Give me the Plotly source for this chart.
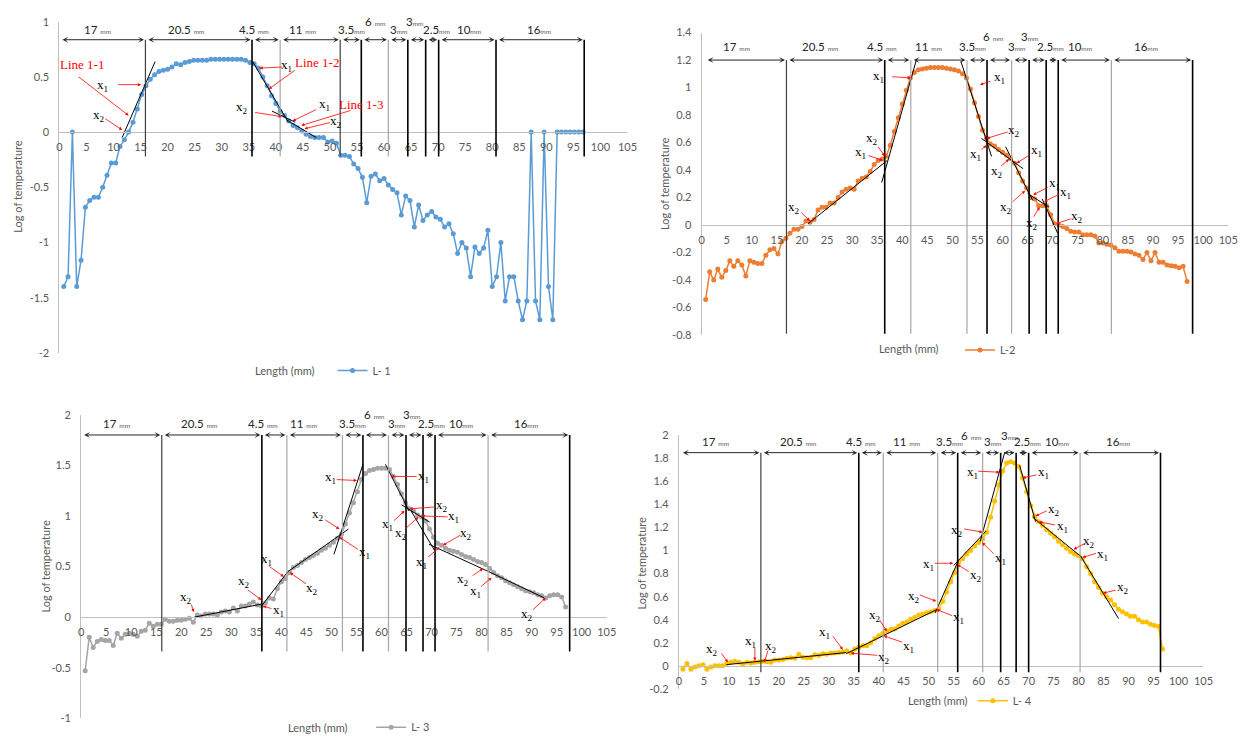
import plotly.graph_objects as go

W, H = 1258, 742

# ---------------- data ----------------
length_mm = [0.8, 1.6, 2.4, 3.2, 4.0, 4.8, 5.6, 6.4, 7.2, 8.0,
             8.8, 9.6, 10.4, 11.2, 12.0, 12.8, 13.6, 14.4, 15.2, 16.0,
             16.8, 17.6, 18.4, 19.2, 20.0, 20.8, 21.6, 22.4, 23.2, 24.0,
             24.8, 25.6, 26.4, 27.2, 28.0, 28.8, 29.6, 30.4, 31.2, 32.0,
             32.8, 33.6, 34.4, 35.2, 36.0, 36.8, 37.6, 38.4, 39.2, 40.0,
             40.8, 41.6, 42.4, 43.2, 44.0, 44.8, 45.6, 46.4, 47.2, 48.0,
             48.8, 49.6, 50.4, 51.2, 52.0, 52.8, 53.6, 54.4, 55.2, 56.0,
             56.8, 57.6, 58.4, 59.2, 60.0, 60.8, 61.6, 62.4, 63.2, 64.0,
             64.8, 65.6, 66.4, 67.2, 68.0, 68.8, 69.6, 70.4, 71.2, 72.0,
             72.8, 73.6, 74.4, 75.2, 76.0, 76.8, 77.6, 78.4, 79.2, 80.0,
             80.8, 81.6, 82.4, 83.2, 84.0, 84.8, 85.6, 86.4, 87.2, 88.0,
             88.8, 89.6, 90.4, 91.2, 92.0, 92.8, 93.6, 94.4, 95.2, 96.0, 96.8]

log_temp_L1 = [-1.40, -1.31, 0.00, -1.40, -1.16, -0.68, -0.62, -0.59, -0.59, -0.50,
               -0.39, -0.28, -0.28, -0.13, -0.07, 0.00, 0.09, 0.21, 0.34, 0.42,
               0.48, 0.52, 0.55, 0.56, 0.57, 0.59, 0.62, 0.61, 0.63, 0.64,
               0.65, 0.65, 0.65, 0.65, 0.66, 0.66, 0.66, 0.66, 0.66, 0.66,
               0.66, 0.66, 0.65, 0.63, 0.62, 0.58, 0.50, 0.42, 0.33, 0.26,
               0.19, 0.15, 0.10, 0.06, 0.04, 0.01, -0.02, -0.04, -0.05, -0.05,
               -0.05, -0.09, -0.08, -0.10, -0.21, -0.21, -0.22, -0.29, -0.33, -0.41,
               -0.64, -0.40, -0.38, -0.44, -0.42, -0.48, -0.52, -0.55, -0.75, -0.58,
               -0.62, -0.86, -0.66, -0.80, -0.75, -0.72, -0.77, -0.79, -0.86, -0.83,
               -0.92, -1.10, -1.00, -1.05, -1.31, -1.04, -1.10, -1.05, -0.89, -1.40,
               -1.31, -1.00, -1.53, -1.31, -1.31, -1.53, -1.70, -1.53, 0.00, -1.53,
               -1.70, 0.00, -1.40, -1.70, 0.00, 0.00, 0.00, 0.00, 0.00, 0.00, 0.00]

log_temp_L2 = [-0.54, -0.34, -0.40, -0.32, -0.38, -0.33, -0.26, -0.30, -0.26, -0.29,
               -0.37, -0.26, -0.27, -0.28, -0.28, -0.22, -0.18, -0.17, -0.21, -0.12,
               -0.095, -0.06, -0.03, -0.03, -0.01, 0.03, 0.02, 0.04, 0.11, 0.13,
               0.13, 0.16, 0.16, 0.20, 0.24, 0.26, 0.27, 0.26, 0.32, 0.34,
               0.35, 0.39, 0.44, 0.47, 0.48, 0.50, 0.58, 0.68, 0.78, 0.88,
               0.98, 1.07, 1.11, 1.13, 1.135, 1.14, 1.145, 1.145, 1.145, 1.145,
               1.14, 1.135, 1.13, 1.12, 1.10, 1.07, 0.99, 0.89, 0.79, 0.69,
               0.63, 0.59, 0.575, 0.55, 0.53, 0.51, 0.485, 0.45, 0.38, 0.32,
               0.27, 0.20, 0.19, 0.14, 0.14, 0.14, 0.075, 0.01, 0.00, -0.01,
               -0.025, -0.045, -0.05, -0.05, -0.07, -0.07, -0.07, -0.08, -0.13, -0.13,
               -0.14, -0.145, -0.165, -0.19, -0.19, -0.19, -0.195, -0.21, -0.22, -0.25,
               -0.20, -0.26, -0.20, -0.27, -0.27, -0.29, -0.295, -0.30, -0.31, -0.30, -0.41]

log_temp_L3 = [-0.53, -0.20, -0.30, -0.24, -0.22, -0.23, -0.23, -0.28, -0.16, -0.21,
               -0.17, -0.16, -0.17, -0.19, -0.14, -0.13, -0.06, -0.09, -0.07, -0.07,
               -0.02, -0.04, -0.04, -0.03, -0.03, -0.02, -0.01, -0.05, 0.02, 0.01,
               0.03, 0.03, 0.03, 0.02, 0.05, 0.06, 0.05, 0.09, 0.06, 0.11,
               0.11, 0.13, 0.15, 0.12, 0.11, 0.14, 0.19, 0.18, 0.28, 0.35,
               0.38, 0.44, 0.49, 0.51, 0.54, 0.57, 0.59, 0.61, 0.63, 0.66,
               0.68, 0.71, 0.74, 0.78, 0.82, 0.92, 1.03, 1.13, 1.24, 1.36,
               1.42, 1.45, 1.46, 1.47, 1.47, 1.47, 1.46, 1.39, 1.31, 1.22,
               1.13, 1.07, 1.05, 1.01, 0.99, 0.95, 0.87, 0.79, 0.73, 0.71,
               0.68, 0.66, 0.65, 0.64, 0.62, 0.60, 0.59, 0.57, 0.55, 0.54,
               0.52, 0.48, 0.44, 0.41, 0.39, 0.36, 0.34, 0.32, 0.30, 0.28,
               0.26, 0.25, 0.24, 0.22, 0.21, 0.19, 0.21, 0.22, 0.22, 0.20, 0.10]

log_temp_L4 = [-0.03, 0.02, -0.03, -0.01, 0.00, 0.01, -0.03, -0.01, 0.00, 0.00,
               0.00, 0.02, 0.03, 0.04, 0.03, 0.015, 0.03, 0.025, 0.03, 0.035,
               0.04, 0.035, 0.03, 0.05, 0.05, 0.055, 0.065, 0.07, 0.065, 0.10,
               0.075, 0.07, 0.07, 0.095, 0.09, 0.105, 0.10, 0.11, 0.11, 0.115,
               0.12, 0.13, 0.11, 0.145, 0.16, 0.175, 0.175, 0.20, 0.235, 0.26,
               0.28, 0.30, 0.315, 0.32, 0.345, 0.37, 0.38, 0.405, 0.42, 0.44,
               0.45, 0.46, 0.47, 0.48, 0.49, 0.56, 0.64, 0.73, 0.81, 0.90,
               0.93, 0.97, 1.00, 1.04, 1.07, 1.10, 1.16, 1.29, 1.43, 1.57,
               1.69, 1.76, 1.77, 1.76, 1.73, 1.63, 1.51, 1.39, 1.30, 1.25,
               1.22, 1.18, 1.15, 1.12, 1.08, 1.05, 1.02, 0.99, 0.97, 0.955,
               0.93, 0.86, 0.80, 0.73, 0.68, 0.63, 0.60, 0.57, 0.53, 0.49,
               0.47, 0.45, 0.43, 0.43, 0.40, 0.38, 0.38, 0.36, 0.35, 0.34, 0.145]

x_ticks = [0, 5, 10, 15, 20, 25, 30, 35, 40, 45, 50, 55, 60, 65, 70, 75, 80, 85, 90, 95, 100, 105]
y_ticks_L1 = [-2, -1.5, -1, -0.5, 0, 0.5, 1]
y_ticks_L2 = [-0.8, -0.6, -0.4, -0.2, 0, 0.2, 0.4, 0.6, 0.8, 1, 1.2, 1.4]
y_ticks_L3 = [-1, -0.5, 0, 0.5, 1, 1.5, 2]
y_ticks_L4 = [-0.2, 0, 0.2, 0.4, 0.6, 0.8, 1, 1.2, 1.4, 1.6, 1.8, 2]

segment_mm = ["17", "20.5", "4.5", "11", "3.5", "6", "3", "3", "2.5", "10", "16"]

# section boundaries (mm) as drawn in each chart
bounds_L1 = [15.9, 35.6, 40.8, 51.9, 55.8, 60.8, 64.4, 67.7, 70.1, 80.7, 97.0]
bounds_L2 = [16.9, 36.5, 41.7, 52.9, 56.9, 61.8, 65.3, 68.7, 71.1, 81.7, 97.9]
bounds_L3 = [16.1, 36.1, 41.1, 52.2, 56.3, 61.4, 64.9, 68.3, 70.7, 81.3, 97.6]
bounds_L4 = [16.4, 36.0, 40.9, 51.8, 55.8, 60.8, 64.4, 67.5, 70.0, 80.3, 96.4]

# fitted straight lines (x0, y0, x1, y1)
fits_L1 = [(11.6, -0.05, 17.7, 0.64), (35.7, 0.64, 42.3, 0.09),
           (39.3, 0.19, 43.6, 0.09), (42.0, 0.11, 47.5, -0.05)]
fits_L2 = [(21.2, 0.01, 37.0, 0.47), (35.9, 0.31, 42.8, 1.20), (51.7, 1.19, 57.8, 0.50),
           (55.8, 0.63, 64.1, 0.41), (60.6, 0.57, 66.0, 0.18), (65.0, 0.23, 69.3, 0.13),
           (67.9, 0.19, 71.0, -0.06)]
fits_L3 = [(22.6, 0.0, 36.2, 0.13), (36.2, 0.12, 41.3, 0.45), (41.3, 0.45, 53.4, 0.87),
           (50.5, 0.62, 56.3, 1.51), (60.8, 1.51, 65.5, 1.05), (64.0, 1.11, 69.6, 0.94),
           (65.9, 1.05, 70.6, 0.66), (69.5, 0.72, 81.4, 0.45), (81.4, 0.45, 92.5, 0.19)]
fits_L4 = [(9.5, 0.01, 33.5, 0.115), (33.5, 0.105, 51.7, 0.49), (51.3, 0.46, 55.9, 0.91),
           (55.0, 0.87, 61.5, 1.17), (60.3, 1.08, 65.2, 1.85), (68.2, 1.74, 71.4, 1.25),
           (70.8, 1.29, 80.7, 0.94), (80.3, 0.96, 88.0, 0.41)]

# ---------------- annotation layout (positions) ----------------
labels_L1 = [("Line 1-1", 4.2, 0.61), ("x1", 7.9, 0.42), ("x2", 7.3, 0.15),
             ("Line 1-2", 47.7, 0.63), ("x1", 42.0, 0.60), ("x2", 33.8, 0.22),
             ("x1", 49.0, 0.25), ("Line 1-3", 55.8, 0.25), ("x2", 51.2, 0.10)]
arrows_L1 = [(3.3, 0.51, 12.8, 0.15), (10.6, 0.43, 15.1, 0.43), (8.2, 0.13, 11.6, 0.02),
             (43.8, 0.57, 38.7, 0.39), (41.4, 0.59, 37.0, 0.58), (35.9, 0.18, 41.1, 0.14),
             (47.7, 0.21, 43.1, 0.10), (54.1, 0.20, 44.7, 0.06), (50.3, 0.09, 45.3, 0.03)]

labels_L2 = [("x1", 35.3, 1.08), ("x2", 34.0, 0.63), ("x1", 31.7, 0.525), ("x2", 18.4, 0.13),
             ("x1", 59.4, 1.07), ("x2", 62.2, 0.69), ("x1", 54.6, 0.51), ("x2", 58.8, 0.39),
             ("x1", 66.8, 0.54), ("x1", 70.3, 0.30), ("x1", 72.6, 0.24), ("x2", 60.7, 0.13),
             ("x2", 65.8, 0.01), ("x2", 74.9, 0.06)]
arrows_L2 = [(37.7, 1.08, 41.7, 1.07), (35.0, 0.58, 36.5, 0.50), (33.0, 0.51, 36.1, 0.47),
             (19.6, 0.10, 21.6, 0.03), (57.9, 1.05, 55.5, 1.02), (61.3, 0.68, 56.8, 0.63),
             (55.5, 0.54, 56.8, 0.58), (59.4, 0.42, 61.3, 0.48), (65.8, 0.52, 62.8, 0.45),
             (69.3, 0.28, 66.1, 0.22), (71.6, 0.23, 68.3, 0.17), (61.7, 0.16, 64.5, 0.25),
             (66.0, 0.05, 67.4, 0.13), (73.9, 0.05, 70.7, 0.01)]

labels_L3 = [("x2", 20.9, 0.19), ("x2", 32.6, 0.35), ("x1", 39.5, 0.065), ("x1", 37.0, 0.57),
             ("x2", 46.2, 0.28), ("x1", 49.8, 1.38), ("x2", 47.4, 1.01), ("x1", 56.6, 0.64),
             ("x1", 68.4, 1.39), ("x2", 72.0, 1.10), ("x1", 74.3, 0.99), ("x1", 61.3, 0.92),
             ("x2", 63.9, 0.83), ("x2", 76.9, 0.83), ("x1", 68.0, 0.54), ("x2", 76.3, 0.37),
             ("x1", 78.8, 0.25), ("x2", 89.1, 0.03)]
arrows_L3 = [(21.9, 0.14, 22.5, 0.05), (33.0, 0.28, 36.0, 0.17), (38.3, 0.08, 36.3, 0.11),
             (37.3, 0.51, 40.5, 0.40), (45.2, 0.32, 41.7, 0.44), (50.8, 1.36, 55.1, 1.35),
             (48.5, 0.97, 51.6, 0.87), (55.6, 0.66, 51.6, 0.79), (67.3, 1.39, 61.8, 1.39),
             (71.0, 1.09, 65.6, 1.07), (73.5, 0.99, 68.0, 1.0), (62.2, 0.94, 64.6, 1.05),
             (64.7, 0.87, 67.4, 0.99), (76.1, 0.82, 72.3, 0.71), (69.0, 0.58, 71.6, 0.69),
             (77.9, 0.40, 80.3, 0.48), (79.6, 0.29, 82.0, 0.39), (90.0, 0.06, 92.8, 0.19)]

labels_L4 = [("x2", 6.7, 0.145), ("x1", 14.4, 0.21), ("x2", 18.4, 0.17), ("x1", 29.1, 0.29),
             ("x2", 41.0, 0.07), ("x2", 39.2, 0.44), ("x1", 46.0, 0.17), ("x2", 47.0, 0.60),
             ("x1", 50.0, 0.88), ("x1", 55.9, 0.42), ("x2", 59.4, 0.78), ("x2", 55.7, 1.17),
             ("x1", 64.3, 0.93), ("x1", 58.7, 1.68), ("x1", 72.9, 1.68), ("x2", 75.0, 1.36),
             ("x1", 76.7, 1.21), ("x2", 82.1, 1.08), ("x1", 84.8, 0.97), ("x2", 88.8, 0.68)]
arrows_L4 = [(8.3, 0.12, 9.8, 0.03), (15.2, 0.17, 15.2, 0.045), (17.9, 0.145, 17.1, 0.03),
             (30.6, 0.27, 32.8, 0.14), (40.0, 0.09, 34.4, 0.11), (40.0, 0.41, 41.6, 0.30),
             (45.0, 0.20, 41.0, 0.26), (47.9, 0.62, 51.5, 0.56), (50.9, 0.89, 54.9, 0.89),
             (55.0, 0.43, 51.5, 0.49), (58.3, 0.81, 55.7, 0.88), (56.8, 1.19, 60.8, 1.16),
             (63.3, 0.96, 60.7, 1.07), (59.6, 1.69, 64.2, 1.68), (71.9, 1.66, 68.8, 1.63),
             (73.9, 1.35, 71.4, 1.30), (75.6, 1.22, 72.1, 1.25), (81.6, 1.07, 79.0, 1.01),
             (83.8, 0.98, 80.8, 0.94), (87.7, 0.66, 84.9, 0.63)]

BLK, DG, GR = "#000000", "#404040", "#A6A6A6"

panels = [
    dict(name="L- 1", vals=log_temp_L1, color="#5B9BD5", xa="x", ya="y",
         pxx=(57, 631), pxy=(15, 352), yr=(-2, 1), yt=y_ticks_L1,
         bounds=bounds_L1, bcol=[DG, BLK, GR, DG, BLK, GR, BLK, BLK, BLK, BLK, BLK],
         vbot=-0.22, arr_y=0.837, arr_x0=0.0,
         dim_x=[7.0, 23.4, 36.0, 45.0, 54.0, 58.3, 62.7, 65.6, 69.7, 75.7, 88.7],
         dim_y=(0.93, 1.0), fits=fits_L1, labels=labels_L1, arrows=arrows_L1,
         legend="legend", leg=(333, 370), xt=(285, 370), ytl=(15, 183)),
    dict(name="L-2", vals=log_temp_L2, color="#ED7D31", xa="x2", ya="y2",
         pxx=(706, 1238), pxy=(26, 334), yr=(-0.8, 1.4), yt=y_ticks_L2,
         bounds=bounds_L2, bcol=[DG, BLK, GR, GR, BLK, GR, BLK, BLK, BLK, GR, BLK],
         vbot=-0.79, arr_y=1.2, arr_x0=0.6,
         dim_x=[7.0, 23.5, 36.0, 45.3, 54.0, 58.1, 62.8, 65.4, 69.6, 75.5, 88.6],
         dim_y=(1.30, 1.37), fits=fits_L2, labels=labels_L2, arrows=arrows_L2,
         legend="legend2", leg=(967, 349), xt=(915, 348), ytl=(669, 180)),
    dict(name="L- 3", vals=log_temp_L3, color="#A5A5A5", xa="x3", ya="y3",
         pxx=(79, 610), pxy=(415, 724), yr=(-1, 2), yt=y_ticks_L3,
         bounds=bounds_L3, bcol=[DG, BLK, GR, GR, BLK, GR, BLK, BLK, BLK, GR, BLK],
         vbot=-0.34, arr_y=1.8, arr_x0=0.0,
         dim_x=[7.0, 23.6, 36.3, 44.5, 54.2, 58.6, 63.0, 65.9, 69.9, 75.8, 88.8],
         dim_y=(1.91, 2.0), fits=fits_L3, labels=labels_L3, arrows=arrows_L3,
         legend="legend3", leg=(372, 733), xt=(318, 733), ytl=(42, 570)),
    dict(name="L- 4", vals=log_temp_L4, color="#FFC000", xa="x4", ya="y4",
         pxx=(683, 1213), pxy=(436, 694), yr=(-0.2, 2), yt=y_ticks_L4,
         bounds=bounds_L4, bcol=[DG, BLK, GR, GR, BLK, GR, BLK, BLK, BLK, GR, BLK],
         vbot=-0.055, arr_y=1.85, arr_x0=0.2,
         dim_x=[7.3, 23.8, 36.4, 45.5, 54.2, 58.4, 62.8, 66.1, 69.7, 75.7, 87.9],
         dim_y=(1.945, 2.0), fits=fits_L4, labels=labels_L4, arrows=arrows_L4,
         legend="legend4", leg=(980, 706), xt=(945, 706), ytl=(645, 566)),
]


def fmt(v):
    s = ("%.1f" % v).rstrip("0").rstrip(".")
    return "0" if s in ("-0", "") else s


TICK_FONT = dict(family="Lato, Open Sans, sans-serif", size=11, color="#595959")
SERIF = "Liberation Serif, Times New Roman, serif"

fig = go.Figure()
shapes, annotations = [], []
layout = {}

for p in panels:
    xa, ya = p["xa"], p["ya"]
    xkey = "xaxis" + xa[1:]
    ykey = "yaxis" + ya[1:]
    x0p, x1p = p["pxx"][0] / W, p["pxx"][1] / W
    ytop, ybot = 1 - p["pxy"][0] / H, 1 - p["pxy"][1] / H
    ymin, ymax = p["yr"]
    zero_pos = ybot + (0 - ymin) / (ymax - ymin) * (ytop - ybot)

    layout[xkey] = dict(domain=[x0p, x1p], range=[0, 105], anchor="free", position=zero_pos,
                        tickvals=x_ticks, ticktext=[str(t) for t in x_ticks],
                        showline=True, linecolor="#BFBFBF", linewidth=1, showgrid=False,
                        zeroline=False, ticks="", tickfont=TICK_FONT, ticklabelstandoff=5,
                        fixedrange=True)
    layout[ykey] = dict(domain=[ybot, ytop], range=[ymin, ymax], anchor=xa,
                        tickvals=p["yt"], ticktext=[fmt(t) for t in p["yt"]],
                        showline=True, linecolor="#BFBFBF", linewidth=1, showgrid=False,
                        zeroline=False, ticks="", tickfont=TICK_FONT, ticklabelstandoff=7,
                        fixedrange=True)

    # measured series
    fig.add_trace(go.Scatter(x=length_mm, y=p["vals"], mode="lines+markers", name=p["name"],
                             line=dict(color=p["color"], width=1.5),
                             marker=dict(color=p["color"], size=5),
                             xaxis=xa, yaxis=ya, legend=p["legend"], hoverinfo="x+y"))
    # fitted lines
    for (fx0, fy0, fx1, fy1) in p["fits"]:
        fig.add_trace(go.Scatter(x=[fx0, fx1], y=[fy0, fy1], mode="lines",
                                 line=dict(color="#000000", width=1),
                                 xaxis=xa, yaxis=ya, showlegend=False, hoverinfo="skip"))

    # section boundary lines
    for b, c in zip(p["bounds"], p["bcol"]):
        shapes.append(dict(type="line", xref=xa, yref=ya, x0=b, x1=b,
                           y0=p["vbot"], y1=p["arr_y"],
                           line=dict(color=c, width=1.6 if c == BLK else 1.2)))

    # dimension arrows
    edges = [p["arr_x0"]] + p["bounds"]
    for a, b in zip(edges[:-1], edges[1:]):
        annotations.append(dict(xref=xa, yref=ya, axref=xa, ayref=ya, x=b, y=p["arr_y"],
                                ax=a, ay=p["arr_y"], text="", showarrow=True,
                                arrowside="end+start", arrowhead=3, startarrowhead=3,
                                arrowsize=1, startarrowsize=1, arrowwidth=1,
                                arrowcolor="#262626", standoff=1.5, startstandoff=1.5))
    # dimension labels
    for k, (t, dx) in enumerate(zip(segment_mm, p["dim_x"])):
        raised = k in (5, 7)
        sep = " " if k in (0, 1, 2, 3, 5) else ""
        annotations.append(dict(xref=xa, yref=ya, x=dx, y=p["dim_y"][1] if raised else p["dim_y"][0],
                                xanchor="center", yanchor="middle",
                                text=t + sep + "<span style='font-size:6.5px;color:#595959'>mm</span>",
                                showarrow=False,
                                font=dict(family="Lato, sans-serif", size=11.5, color="#262626")))

    # red arrows
    for (tx, ty, hx, hy) in p["arrows"]:
        annotations.append(dict(xref=xa, yref=ya, axref=xa, ayref=ya, x=hx, y=hy, ax=tx, ay=ty,
                                text="", showarrow=True, arrowhead=2, arrowsize=0.8,
                                arrowwidth=0.8, arrowcolor="#FF0000"))
    # x1/x2 and Line labels
    for (t, lx, ly) in p["labels"]:
        if t.startswith("Line"):
            txt, col = t, "#FF0000"
        else:
            txt, col = "x<sub>" + t[1] + "</sub>", "#000000"
        annotations.append(dict(xref=xa, yref=ya, x=lx, y=ly, text=txt, showarrow=False,
                                xanchor="center", yanchor="middle",
                                font=dict(family=SERIF, size=13, color=col)))

    # axis titles
    annotations.append(dict(xref="paper", yref="paper", x=p["xt"][0] / W, y=1 - p["xt"][1] / H,
                            xanchor="center", yanchor="middle",
                            text="Length (mm)", showarrow=False,
                            font=dict(family="Lato, sans-serif", size=11, color="#595959")))
    annotations.append(dict(xref="paper", yref="paper", x=p["ytl"][0] / W, y=1 - p["ytl"][1] / H,
                            xanchor="center", yanchor="middle",
                            text="Log of temperature", showarrow=False, textangle=-90,
                            font=dict(family="Lato, sans-serif", size=11, color="#595959")))

    layout[p["legend"]] = dict(x=p["leg"][0] / W, y=1 - p["leg"][1] / H, xanchor="left",
                               yanchor="middle", bgcolor="rgba(0,0,0,0)", itemwidth=30,
                               font=dict(family="Lato, sans-serif", size=11, color="#595959"))

fig.update_layout(width=W, height=H, autosize=False, margin=dict(l=0, r=0, t=0, b=0),
                  paper_bgcolor="white", plot_bgcolor="white", showlegend=True,
                  shapes=shapes, annotations=annotations, **layout)

fig.write_html("out.html")
